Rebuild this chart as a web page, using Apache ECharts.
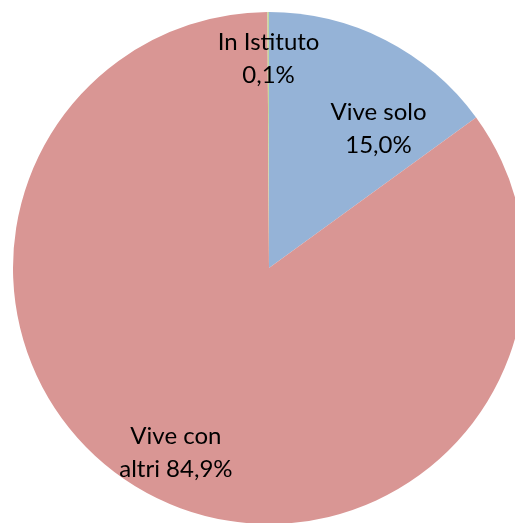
<!DOCTYPE html>
<html>
<head>
<meta charset="utf-8">
<script src="https://cdn.jsdelivr.net/npm/echarts@6/dist/echarts.min.js"></script>
<style>
  html, body { margin: 0; padding: 0; background: #fff; }
  #chart { width: 515px; height: 523px; }
</style>
</head>
<body>
<div id="chart"></div>
<script>
  // dati
  var categories = ['Vive solo', 'Vive con altri', 'In Istituto'];
  var values = [15.0, 84.9, 0.1];
  var labelNames = ['Vive solo\n', 'Vive con\naltri ', 'In Istituto\n'];
  var colors = ['#95B3D7', '#D99694', '#C3D69B'];

  // spostamento etichette rispetto alla posizione 'inside'
  var labelShift = [[50, -23], [-34, 68], [0, -78]];

  var chart = echarts.init(document.getElementById('chart'));

  var data = categories.map(function (c, i) {
    return { name: c, value: values[i], itemStyle: { color: colors[i] } };
  });

  var option = {
    animation: false,
    series: [
      {
        type: 'pie',
        center: [269, 268],
        radius: 256,
        startAngle: 90,
        clockwise: true,
        minAngle: 0,
        avoidLabelOverlap: false,
        itemStyle: { borderWidth: 0 },
        label: {
          show: true,
          position: 'inside',
          color: '#000',
          fontFamily: 'Lato',
          fontSize: 24,
          lineHeight: 33,
          formatter: function (p) {
            return labelNames[p.dataIndex] + p.value.toFixed(1).replace('.', ',') + '%';
          }
        },
        labelLayout: function (p) {
          return { dx: labelShift[p.dataIndex][0], dy: labelShift[p.dataIndex][1] };
        },
        emphasis: { disabled: true },
        data: data
      }
    ]
  };

  chart.setOption(option);
</script>
</body>
</html>
